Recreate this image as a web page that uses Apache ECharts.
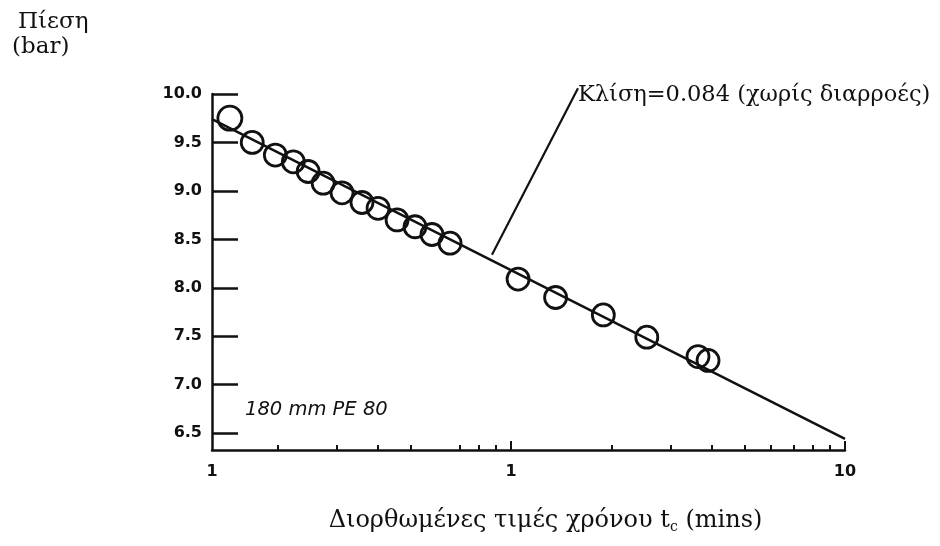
<!DOCTYPE html>
<html><head><meta charset="utf-8">
<script src="https://cdn.jsdelivr.net/npm/echarts@6/dist/echarts.min.js"></script>
<style>html,body{margin:0;padding:0;background:#fff}#c{width:940px;height:546px}</style>
</head><body><div id="c"></div>
<script>
// corrected time t_c (mins) and pressure (bar)
const tc = [0.144, 0.168, 0.197, 0.223, 0.247, 0.274, 0.312, 0.358, 0.400, 0.456, 0.516, 0.580, 0.657, 1.05, 1.36, 1.89, 2.55, 3.63, 3.89];
const pressure = [9.75, 9.50, 9.37, 9.30, 9.20, 9.08, 8.98, 8.88, 8.82, 8.70, 8.63, 8.55, 8.46, 8.09, 7.90, 7.72, 7.49, 7.29, 7.25];
const fitX = [0.1273, 10];
const fitY = [9.74, 6.44];
const leaderX = [0.877, 1.587];
const leaderY = [8.34, 10.06];
const xMin = 0.1273, xMax = 10;
const xTickValues = [0.1273, 1, 10];
const xTickLabels = ['1', '1', '10'];
const xMajorTicks = [1, 10];
const xMinorTicks = [0.2, 0.3, 0.4, 0.5, 0.7, 0.8, 0.9, 2, 3, 4, 5, 6, 7, 8, 9];
const yMin = 6.326, yMax = 10;
const yTickValues = [6.5, 7, 7.5, 8, 8.5, 9, 9.5, 10];
const yTitle = ['Πίεση', '(bar)'];
const slopeText = 'Κλίση=0.084 (χωρίς διαρροές)';
const pipeText = '180 mm PE 80';

const lg = v => Math.log10(v);
const chart = echarts.init(document.getElementById('c'));
const axisFontLbl = {fontFamily: 'DejaVu Sans', fontSize: 16, fontWeight: 'bold', color: '#111'};
chart.setOption({
  animation: false,
  backgroundColor: '#fff',
  grid: {left: 212, right: 95, top: 94, bottom: 96, containLabel: false},
  xAxis: [{
    type: 'value', min: lg(xMin), max: lg(xMax),
    name: 'Διορθωμένες τιμές χρόνου {t|t}{s|c} (mins)',
    nameLocation: 'middle', nameGap: 58,
    nameTextStyle: {fontFamily: 'DejaVu Serif', fontSize: 24, color: '#111', padding: [0, 0, 0, 34],
      rich: {t: {fontFamily: 'DejaVu Serif', fontSize: 24, color: '#111'}, s: {fontFamily: 'DejaVu Serif', fontSize: 14, color: '#111', verticalAlign: 'bottom', padding: [12, 0, 0, 0]}}},
    splitLine: {show: false},
    axisLine: {show: true, onZero: false, lineStyle: {color: '#111', width: 2.5}},
    axisTick: {show: true, inside: true, length: 9, customValues: xMajorTicks.map(lg), lineStyle: {color: '#111', width: 2}},
    axisLabel: {show: true, margin: 14, customValues: xTickValues.map(lg), showMinLabel: true, showMaxLabel: true,
      formatter: v => { let bi = 0; xTickValues.forEach((t, i) => { if (Math.abs(lg(t) - v) < Math.abs(lg(xTickValues[bi]) - v)) bi = i; }); return xTickLabels[bi]; },
      ...axisFontLbl}
  }, {
    type: 'value', min: lg(xMin), max: lg(xMax), position: 'bottom', gridIndex: 0,
    splitLine: {show: false}, axisLine: {show: false, onZero: false}, axisLabel: {show: false},
    axisTick: {show: true, inside: true, length: 5, customValues: xMinorTicks.map(lg), lineStyle: {color: '#111', width: 2}}
  }],
  yAxis: {
    type: 'value', min: yMin, max: yMax,
    splitLine: {show: false},
    axisLine: {show: true, onZero: false, lineStyle: {color: '#111', width: 2.5}},
    axisTick: {show: true, inside: true, length: 26, customValues: yTickValues, lineStyle: {color: '#111', width: 2.5}},
    axisLabel: {show: true, margin: 10, customValues: yTickValues, formatter: v => v.toFixed(1), ...axisFontLbl}
  },
  graphic: [
    {type: 'text', left: 18, top: 11, style: {text: yTitle[0], font: '23px "DejaVu Serif"', fill: '#111'}},
    {type: 'text', left: 12, top: 36, style: {text: yTitle[1], font: '23px "DejaVu Serif"', fill: '#111'}},
    {type: 'text', left: 578, top: 84, style: {text: slopeText, font: '22.5px "DejaVu Serif"', fill: '#111'}},
    {type: 'text', left: 245, top: 400, style: {text: pipeText, font: 'italic 19.5px "DejaVu Sans"', fill: '#111'}}
  ],
  series: [{
    type: 'line', data: fitX.map((x, i) => [lg(x), fitY[i]]), showSymbol: false, silent: true,
    lineStyle: {color: '#111', width: 2.5}, z: 2
  }, {
    type: 'line', data: leaderX.map((x, i) => [lg(x), leaderY[i]]), showSymbol: false, silent: true, clip: false,
    lineStyle: {color: '#111', width: 2.2}, z: 2
  }, {
    type: 'scatter', data: tc.map((t, i) => [lg(t), pressure[i]]), symbol: 'circle',
    symbolSize: (v, p) => p.dataIndex === 0 ? 24 : 22,
    itemStyle: {color: 'rgba(0,0,0,0)', borderColor: '#111', borderWidth: 2.8, opacity: 1}, z: 3
  }]
});
</script></body></html>
